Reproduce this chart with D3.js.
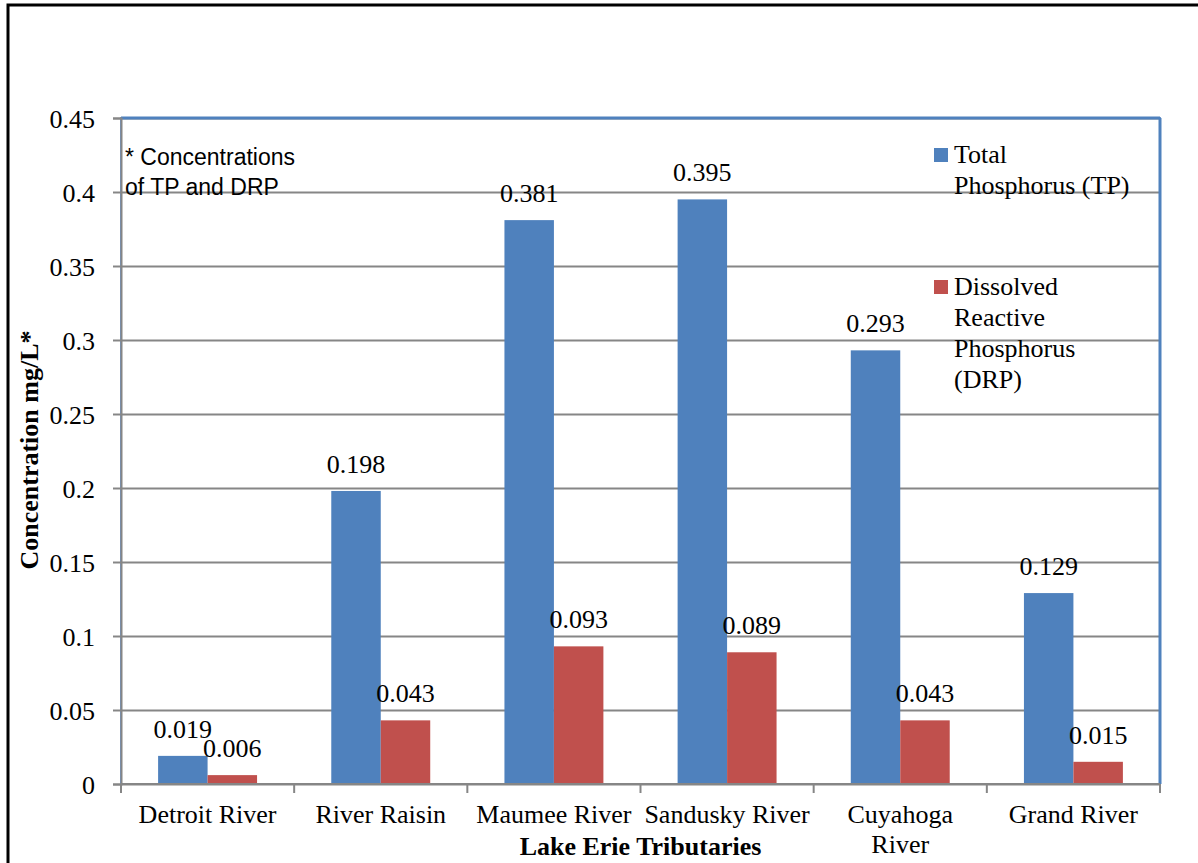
<!DOCTYPE html>
<html>
    <head>
        <meta charset="utf-8">
        <script src="https://d3js.org/d3.v7.min.js"></script>
        <style>
            body { margin: 0; background: #fff; }
            text { font-family: "Liberation Serif", "Times New Roman", serif; fill: #000; }
        </style>
    </head>
    <body>
        <div id="container"></div>
        <script>
        // Data
        const rivers = ["Detroit River", "River Raisin", "Maumee River", "Sandusky River", "Cuyahoga River", "Grand River"]
        const riverLines = [["Detroit River"], ["River Raisin"], ["Maumee River"], ["Sandusky River"], ["Cuyahoga", "River"], ["Grand River"]]
        const seriesNames = ["TP", "DRP"]
        const tpValues = [0.019, 0.198, 0.381, 0.395, 0.293, 0.129]
        const drpValues = [0.006, 0.043, 0.093, 0.089, 0.043, 0.015]
        const yTicks = [0, 0.05, 0.1, 0.15, 0.2, 0.25, 0.3, 0.35, 0.4, 0.45]
        const legendLines = [["Total", "Phosphorus (TP)"], ["Dissolved", "Reactive", "Phosphorus", "(DRP)"]]
        const colors = ["#4F81BD", "#C0504D"]

        const w = 1198
        const h = 863
        const plotLeft = 121, plotRight = 1160, plotTop = 118, plotBottom = 784
        const fs = 26

        const svg = d3.select("#container")
            .append("svg")
            .attr("width", w)
            .attr("height", h)

        // Outer frame
        svg.append("rect")
            .attr("x", 8).attr("y", 5)
            .attr("width", w + 20).attr("height", h + 20)
            .attr("fill", "none")
            .attr("stroke", "#000")
            .attr("stroke-width", 3)

        // Scales
        const x0 = d3.scaleBand().domain(rivers).range([plotLeft, plotRight]).padding(0)
        const x1 = d3.scaleBand().domain(seriesNames).range([0, x0.bandwidth()]).paddingInner(0).paddingOuter(0.75)
        const y = d3.scaleLinear().domain([0, 0.45]).range([plotBottom, plotTop])

        // Gridlines
        svg.append("g")
            .attr("transform", "translate(" + plotLeft + ",0)")
            .call(d3.axisLeft(y).tickValues(yTicks).tickSize(-(plotRight - plotLeft)).tickFormat(""))
            .call(g => g.select(".domain").remove())
            .call(g => g.selectAll("line").attr("stroke", "#868686").attr("stroke-width", 2))

        // Plot border
        svg.append("rect")
            .attr("x", plotLeft).attr("y", plotTop)
            .attr("width", plotRight - plotLeft).attr("height", plotBottom - plotTop)
            .attr("fill", "none")
            .attr("stroke", "#6f97cb")
            .attr("stroke-width", 2)
        svg.append("line")
            .attr("x1", plotRight).attr("x2", plotRight).attr("y1", plotTop).attr("y2", plotBottom)
            .attr("stroke", "#4F81BD").attr("stroke-width", 3)
        svg.append("line")
            .attr("x1", plotLeft).attr("x2", plotRight).attr("y1", plotTop).attr("y2", plotTop)
            .attr("stroke", "#4F81BD").attr("stroke-width", 3)

        // Bars
        const rows = rivers.map((r, i) => ({ river: r, values: [tpValues[i], drpValues[i]] }))
        const groups = svg.selectAll(".group")
            .data(rows)
            .enter()
            .append("g")
            .attr("transform", d => "translate(" + x0(d.river) + ",0)")

        groups.selectAll("rect")
            .data(d => d.values.map((v, k) => ({ key: seriesNames[k], v: v, k: k })))
            .enter()
            .append("rect")
            .attr("x", d => x1(d.key))
            .attr("y", d => y(d.v))
            .attr("width", x1.bandwidth())
            .attr("height", d => y(0) - y(d.v))
            .attr("fill", d => colors[d.k])

        groups.selectAll(".lbl")
            .data(d => d.values.map((v, k) => ({ key: seriesNames[k], v: v })))
            .enter()
            .append("text")
            .attr("x", d => x1(d.key) + x1.bandwidth() / 2)
            .attr("y", d => y(d.v) - 18)
            .attr("text-anchor", "middle")
            .attr("font-size", fs)
            .text(d => d.v.toFixed(3))

        // Y axis
        const yAxis = svg.append("g")
            .attr("transform", "translate(" + plotLeft + ",0)")
            .call(d3.axisLeft(y).tickValues(yTicks).tickSize(8).tickPadding(18).tickFormat(d => String(+d.toFixed(2))))
        yAxis.select(".domain").attr("stroke", "#868686").attr("stroke-width", 2)
        yAxis.selectAll("line").attr("stroke", "#868686").attr("stroke-width", 2)
        yAxis.selectAll("text")
            .attr("font-size", fs)
            .attr("dy", "0.35em")

        // X axis
        const xAxis = svg.append("g")
            .attr("transform", "translate(0," + plotBottom + ")")
        xAxis.append("line")
            .attr("x1", plotLeft).attr("x2", plotRight)
            .attr("stroke", "#868686").attr("stroke-width", 2)
        xAxis.selectAll(".tick")
            .data(rivers.concat(["end"]))
            .enter()
            .append("line")
            .attr("x1", (d, i) => plotLeft + i * x0.step())
            .attr("x2", (d, i) => plotLeft + i * x0.step())
            .attr("y1", 0).attr("y2", 9)
            .attr("stroke", "#868686").attr("stroke-width", 2)

        const catLabels = svg.selectAll(".cat")
            .data(rivers)
            .enter()
            .append("text")
            .attr("x", d => x0(d) + x0.bandwidth() / 2)
            .attr("y", 823)
            .attr("text-anchor", "middle")
            .attr("font-size", fs)
        catLabels.selectAll("tspan")
            .data((d, i) => riverLines[i])
            .enter()
            .append("tspan")
            .attr("x", function() { return this.parentNode.getAttribute("x") })
            .attr("dy", (d, i) => i === 0 ? 0 : 30)
            .text(d => d)

        // Axis titles
        svg.append("text")
            .attr("x", (plotLeft + plotRight) / 2)
            .attr("y", 855)
            .attr("text-anchor", "middle")
            .attr("font-size", fs)
            .attr("font-weight", "bold")
            .text("Lake Erie Tributaries")

        svg.append("text")
            .attr("transform", "translate(38,450) rotate(-90)")
            .attr("text-anchor", "middle")
            .attr("font-size", fs)
            .attr("font-weight", "bold")
            .text("Concentration mg/L*")

        // Note
        svg.append("text")
            .attr("x", 125)
            .attr("y", 165)
            .attr("font-size", 23)
            .style("font-family", "'Liberation Sans', sans-serif")
            .selectAll("tspan")
            .data(["* Concentrations", "of TP and DRP"])
            .enter()
            .append("tspan")
            .attr("x", 125)
            .attr("dy", (d, i) => i === 0 ? 0 : 30)
            .text(d => d)

        // Legend
        const legendTop = [148, 280]
        legendLines.forEach((lines, k) => {
            svg.append("rect")
                .attr("x", 934).attr("y", legendTop[k])
                .attr("width", 14).attr("height", 14)
                .attr("fill", colors[k])
            svg.append("text")
                .attr("x", 954)
                .attr("y", legendTop[k] + 15)
                .attr("font-size", fs)
                .selectAll("tspan")
                .data(lines)
                .enter()
                .append("tspan")
                .attr("x", 954)
                .attr("dy", (d, i) => i === 0 ? 0 : 31)
                .text(d => d)
        })
        </script>
    </body>
</html>
